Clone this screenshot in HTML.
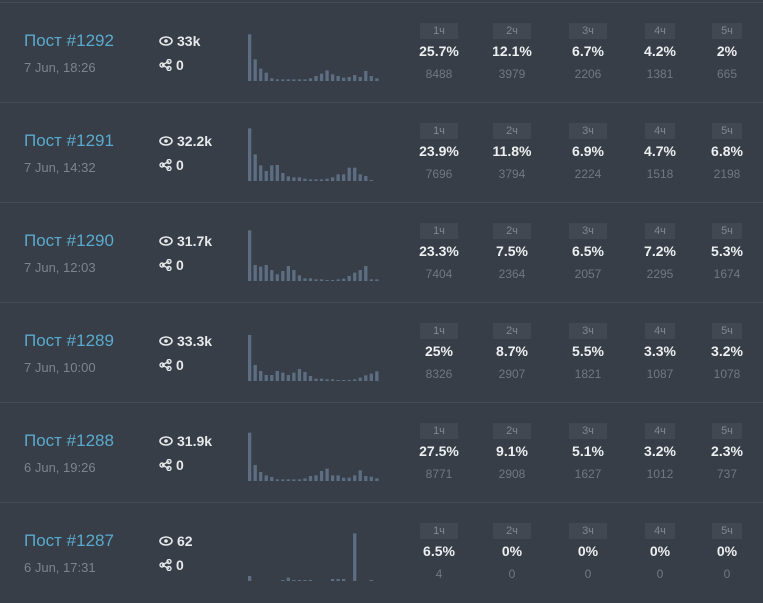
<!DOCTYPE html>
<html><head><meta charset="utf-8">
<style>
body{margin:0;width:763px;height:600px;overflow:hidden;background:#373e47;font-family:"Liberation Sans",sans-serif;}
.row{position:absolute;left:0;width:763px;height:100px;border-top:1px solid #444b55;}
.title{position:absolute;left:24px;top:28px;font-size:17px;color:#5aaacd;}
.date{position:absolute;left:24px;top:57px;font-size:13px;color:#7b848f;}
.stat{position:absolute;left:159px;font-size:14px;color:#e6e8ea;font-weight:bold;display:flex;align-items:center;gap:4px;}
.badge{position:absolute;top:20px;height:16px;background:#414852;color:#7f8893;font-size:11px;text-align:center;line-height:16px;}
.pct{position:absolute;top:40px;font-size:14px;color:#eceef0;font-weight:bold;text-align:center;width:60px;}
.cnt{position:absolute;top:64px;font-size:12px;color:#6f7883;text-align:center;width:60px;}
svg.sp{position:absolute;left:246px;top:20px;}
</style></head><body>
<div id="root"></div>
<script>
const titles=["Пост #1292","Пост #1291","Пост #1290","Пост #1289","Пост #1288","Пост #1287"];
const dates=["7 Jun, 18:26","7 Jun, 14:32","7 Jun, 12:03","7 Jun, 10:00","6 Jun, 19:26","6 Jun, 17:31"];
const views=["33k","32.2k","31.7k","33.3k","31.9k","62"];
const shares=["0","0","0","0","0","0"];
const hours=["1ч","2ч","3ч","4ч","5ч"];
const pcts=[["25.7%","12.1%","6.7%","4.2%","2%"],["23.9%","11.8%","6.9%","4.7%","6.8%"],["23.3%","7.5%","6.5%","7.2%","5.3%"],["25%","8.7%","5.5%","3.3%","3.2%"],["27.5%","9.1%","5.1%","3.2%","2.3%"],["6.5%","0%","0%","0%","0%"]];
const counts=[["8488","3979","2206","1381","665"],["7696","3794","2224","1518","2198"],["7404","2364","2057","2295","1674"],["8326","2907","1821","1087","1078"],["8771","2908","1627","1012","737"],["4","0","0","0","0"]];
const spark0=[140,65,37,25,8,5,5,5,5,5,5,8,15,22,32,20,15,10,12,18,12,30,15,8];
const spark1=[158,80,47,30,47,48,24,14,11,11,7,5,5,5,7,11,20,20,40,40,20,15,2,0];
const spark2=[152,48,43,48,33,20,30,45,33,17,8,8,5,5,3,3,5,7,15,25,33,45,5,5];
const spark3=[138,48,30,18,18,30,25,18,25,36,27,15,7,7,5,5,3,3,3,5,10,17,22,29];
const spark4=[145,48,27,17,12,5,5,5,5,5,8,15,17,30,37,17,17,10,10,17,32,15,13,8];
const spark5=[15,0,0,0,0,0,3,10,3,3,3,3,0,0,0,6,6,6,0,143,0,0,3,0];
const sparks=[spark0,spark1,spark2,spark3,spark4,spark5];
const colX=[439,512,588,660,727];
const badgeW=[38,38,38,30,30];
const NS="http://www.w3.org/2000/svg";
const xs=i=>2+i*5.53;
const ys=v=>v/3;
const root=document.getElementById('root');
const eye='<svg width="14" height="10" viewBox="0 0 14 10"><ellipse cx="7" cy="5" rx="6" ry="4" fill="none" stroke="#e6e8ea" stroke-width="1.6"/><circle cx="7" cy="5" r="1.8" fill="#e6e8ea"/></svg>';
const share='<svg width="13" height="12" viewBox="0 0 13 12"><line x1="3" y1="6" x2="10" y2="2.5" stroke="#e6e8ea" stroke-width="1.4"/><line x1="3" y1="6" x2="10" y2="9.5" stroke="#e6e8ea" stroke-width="1.4"/><circle cx="3" cy="6" r="2" fill="none" stroke="#e6e8ea" stroke-width="1.4"/><circle cx="10" cy="2.5" r="2" fill="none" stroke="#e6e8ea" stroke-width="1.4"/><circle cx="10" cy="9.5" r="2" fill="none" stroke="#e6e8ea" stroke-width="1.4"/></svg>';
titles.forEach((t,r)=>{
  const row=document.createElement('div');row.className='row';row.style.top=(2+r*100)+'px';
  
  
  const ti=document.createElement('div');ti.className='title';ti.textContent=t;
  
  
  row.appendChild(ti);
  const d=document.createElement('div');d.className='date';d.textContent=dates[r];
  
  
  row.appendChild(d);
  const v=document.createElement('div');v.className='stat';v.style.top='30px';v.innerHTML=eye+'<span>'+views[r]+'</span>';
  
  
  row.appendChild(v);
  const s=document.createElement('div');s.className='stat';s.style.top='54px';s.innerHTML=share+'<span>'+shares[r]+'</span>';
  
  
  row.appendChild(s);
  const svg=document.createElementNS(NS,'svg');svg.setAttribute('class','sp');svg.setAttribute('width','140');svg.setAttribute('height','58');
  
  
  sparks[r].forEach((val,i)=>{
    const h=Math.max(ys(val),val>0?1:0);if(!h)return;
    const b=document.createElementNS(NS,'rect');
    b.setAttribute('x',xs(i));b.setAttribute('y',58-h);b.setAttribute('width',3.3);b.setAttribute('height',h);b.setAttribute('fill','#5d6d82');
    
    
    svg.appendChild(b);
  });
  row.appendChild(svg);
  hours.forEach((h,c)=>{
    const bd=document.createElement('div');bd.className='badge';bd.textContent=h;bd.style.width=badgeW[c]+'px';bd.style.left=(colX[c]-badgeW[c]/2)+'px';
    
    
    row.appendChild(bd);
    const p=document.createElement('div');p.className='pct';p.textContent=pcts[r][c];p.style.left=(colX[c]-30)+'px';
    
    
    row.appendChild(p);
    const n=document.createElement('div');n.className='cnt';n.textContent=counts[r][c];n.style.left=(colX[c]-30)+'px';
    
    
    row.appendChild(n);
  });
  root.appendChild(row);
});
</script>
</body></html>
